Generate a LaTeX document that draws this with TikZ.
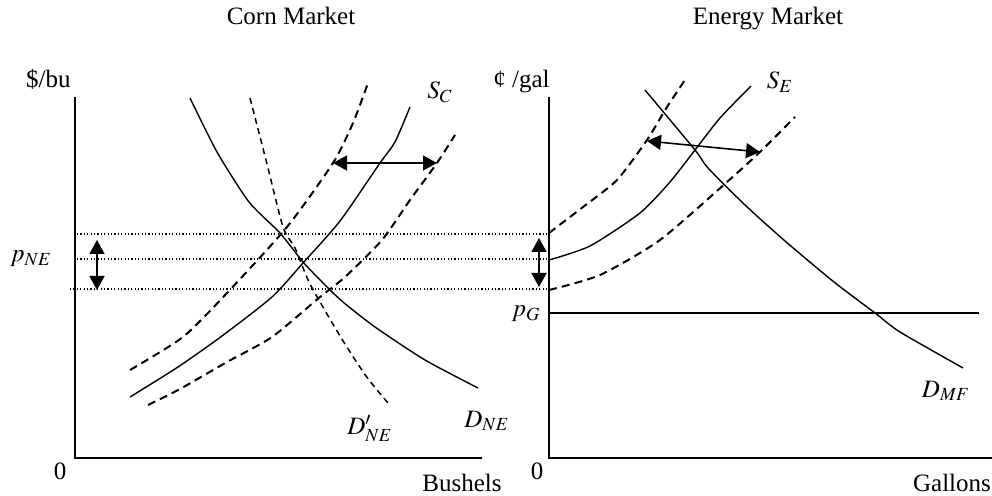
\documentclass[tikz,border=0pt]{standalone}
\usepackage{mathptmx}
\usepackage{fontspec}
\setmainfont{Liberation Serif}
\usetikzlibrary{arrows.meta}

\begin{document}
\begin{tikzpicture}[x=0.5pt, y=-0.5pt,
  axis/.style={line width=1pt},
  curve/.style={line width=0.7pt},
  shifted/.style={line width=1pt, dash pattern=on 4pt off 2.6pt},
  newdemand/.style={line width=0.75pt, dash pattern=on 3pt off 2.2pt},
  dotline/.style={line width=0.6pt, dash pattern=on 0.6pt off 1.1pt},
  shiftarrow/.style={{Triangle[length=7pt,width=7.5pt]}-{Triangle[length=7pt,width=7.5pt]}, line width=0.8pt},
  lbl/.style={font=\fontsize{12.5}{14}\selectfont, inner sep=0pt}
]
\useasboundingbox (0,0) rectangle (992,496);

% Titles
\node[lbl, anchor=base] (corntitle)   at (291,25) {Corn Market};
\node[lbl, anchor=base] (energytitle) at (768,25) {Energy Market};

% Corn market axes
\coordinate (corig) at (75,458);
\draw[axis] (75,97) -- (corig) -- (482,458);
\node[lbl, anchor=base east] (cunit) at (71,88) {\$/bu};
\node[lbl, anchor=base] (czero) at (60,480) {0};
\node[lbl, anchor=base] (cqty) at (462,492) {Bushels};
\node[lbl] (pne) at (31,259) {$p_{NE}$};

% Energy market axes
\coordinate (eorig) at (549,458);
\draw[axis] (549,97) -- (eorig) -- (992,458);
\node[lbl, anchor=base east] (eunit) at (550,88) {¢ /gal};
\node[lbl, anchor=base] (ezero) at (537,480) {0};
\node[lbl, anchor=base] (eqty) at (952,492) {Gallons};
\node[lbl] (pg) at (526,314) {$p_G$};

% Dotted price lines across both markets
\draw[dotline] (77,234) -- (549,234);
\draw[dotline] (77,259) -- (549,259);
\draw[dotline] (70,289) -- (549,289);

% Corn supply and shifted supplies
\draw[curve] plot[smooth, tension=0.4] coordinates {(130,397) (178,367) (222,336) (272,297) (303,263) (340,221) (380,163) (395,142) (410,107)};
\draw[shifted] plot[smooth, tension=0.4] coordinates {(130,370) (183,337) (227,293) (287,227) (333,163) (353,123) (368,83)};
\draw[shifted] plot[smooth, tension=0.4] coordinates {(148,405) (180,389) (227,362) (272,337) (320,297) (345,277) (382,240) (410,200) (437,163) (455,135)};
\node[lbl] (sc) at (440,92) {$S_C$};

% Corn demands
\draw[curve] plot[smooth, tension=0.4] coordinates {(190,98) (217,152) (249,202) (280,233) (303,262) (325,285) (343,302) (375,327) (425,360) (478,388)};
\draw[newdemand] plot[smooth, tension=0.4] coordinates {(250,98) (266,160) (283,227) (295,248) (310,284) (340,336) (366,376) (388,403)};
\node[lbl] (dne) at (487,421) {$D_{NE}$};
\node[lbl] (dnep) at (370,429) {$D'_{NE}$};

% Corn shift arrows
\coordinate (cvtop) at (97,240);
\coordinate (cvbot) at (97,290);
\draw[shiftarrow] (cvtop) -- (cvbot);
\coordinate (chleft) at (333,163);
\coordinate (chright) at (437,163);
\draw[shiftarrow] (chleft) -- (chright);

% Energy supply and shifted supplies
\draw[curve] plot[smooth, tension=0.4] coordinates {(549,260) (590,246) (640,213) (670,182) (695,150) (720,118) (751,86)};
\draw[shifted] plot[smooth, tension=0.4] coordinates {(549,233) (583,207) (617,180) (647,140) (667,107) (685,80)};
\draw[shifted] plot[smooth, tension=0.4] coordinates {(549,290) (600,275) (660,240) (727,182) (760,152) (795,117)};
\node[lbl] (se) at (780,82) {$S_E$};

% Energy demand and gasoline price
\draw[curve] plot[smooth, tension=0.4] coordinates {(645,90) (695,150) (708,168) (745,205) (785,241) (834,282) (875,313) (900,332) (963,368)};
\draw[curve] (549,313) -- (979,313);
\node[lbl] (dmf) at (946,391) {$D_{MF}$};

% Energy shift arrows
\coordinate (evtop) at (539,238);
\coordinate (evbot) at (539,287);
\draw[shiftarrow] (evtop) -- (evbot);
\coordinate (ehleft) at (647,141);
\coordinate (ehright) at (760,152);
\draw[shiftarrow] (ehleft) -- (ehright);

\end{tikzpicture}
\end{document}
